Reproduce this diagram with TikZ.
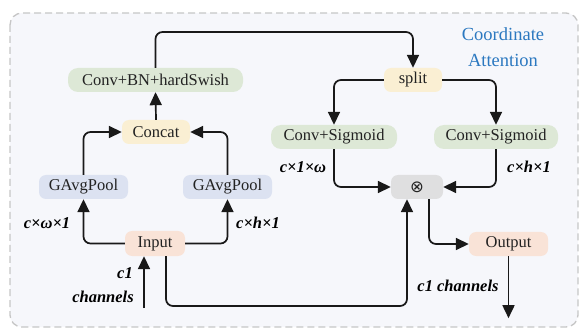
\documentclass[tikz,border=0pt]{standalone}
\usepackage{fontspec}
\setmainfont{Liberation Serif}
\newfontfamily\symfont{DejaVu Sans}
\usetikzlibrary{arrows.meta,calc}
\definecolor{bgfill}{HTML}{F6F7FB}
\definecolor{frame}{HTML}{C6C6C6}
\definecolor{greenbox}{HTML}{DDE8D6}
\definecolor{yellowbox}{HTML}{FAEFD3}
\definecolor{bluebox}{HTML}{DCE2F1}
\definecolor{peachbox}{HTML}{F9E3D7}
\definecolor{graybox}{HTML}{DFDFE0}
\definecolor{titleblue}{HTML}{2B78C0}
\definecolor{ink}{HTML}{222222}
\tikzset{
  blk/.style={inner sep=0pt, minimum height=24pt, text=ink, font=\fontsize{16.5}{18}\selectfont, rounded corners=7pt},
  greenblk/.style={blk, fill=greenbox, rounded corners=10pt},
  yellowblk/.style={blk, fill=yellowbox},
  blueblk/.style={blk, fill=bluebox},
  peachblk/.style={blk, fill=peachbox},
  grayblk/.style={blk, fill=graybox},
  link/.style={draw=black!90, line width=1.7pt, rounded corners=7pt,
    -{Triangle[length=13pt,width=12pt]}},
  dimlbl/.style={inner sep=0pt, text=black, font=\fontsize{16.5}{18}\selectfont\bfseries\itshape}
}
\begin{document}
\begin{tikzpicture}[x=1pt,y=-1pt]
\useasboundingbox (0,0) rectangle (581,331);
% dashed frame of the attention block
\draw[frame, fill=bgfill, line width=1.3pt, dash pattern=on 7pt off 4pt, rounded corners=12pt]
  (10,13) rectangle (578,327);
\node[align=center, text=titleblue, font=\fontsize{18.5}{26}\selectfont] (title) at (503,47)
  {Coordinate\\Attention};

% blocks
\node[greenblk, minimum width=175pt] (cbn) at (155.5,80) {Conv+BN+hardSwish};
\node[yellowblk, minimum width=68pt] (cc) at (156,132) {Concat};
\node[blueblk, minimum width=89pt] (gl) at (83.5,187) {GAvgPool};
\node[blueblk, minimum width=89pt] (gr) at (227.5,187) {GAvgPool};
\node[peachblk, minimum width=60pt, minimum height=25pt] (inp) at (155,243.5) {Input};
\node[yellowblk, minimum width=58pt] (sp) at (413,80) {split};
\node[greenblk, minimum width=126pt] (csl) at (334,137) {Conv+Sigmoid};
\node[greenblk, minimum width=124pt] (csr) at (496,137) {Conv+Sigmoid};
\node[grayblk, minimum width=52pt] (mul) at (417,187) {\symfont ⊗};
\node[peachblk, minimum width=79pt] (out) at (508.5,244) {Output};

% helper points
\coordinate (src) at (144,308);
\coordinate (inb) at ($(inp.south)+(11,0)$);
\coordinate (mulin) at ($(mul.south)+(-10,0)$);
\coordinate (mulout) at ($(mul.south)+(12,0)$);
\coordinate (sink) at ($(out.south)+(0,62)$);

% connectors
\draw[link] (src) -- (src |- inp.south);
\draw[link] (inp.west) -| (gl.south);
\draw[link] (inp.east) -| (gr.south);
\draw[link] (gl.north) |- (cc.west);
\draw[link] (gr.north) |- (cc.east);
\draw[link] (cc.north) -- (cbn.south);
\draw[link] (cbn.north) -- (cbn.north |- 0,32) -| (sp.north);
\draw[link] (sp.west) -| (csl.north);
\draw[link] (sp.east) -| (csr.north);
\draw[link] (csl.south) |- (mul.west);
\draw[link] (csr.south) |- (mul.east);
\draw[link] (inb) -- (inb |- 0,306) -| (mulin);
\draw[link] (mulout) |- (out.west);
\draw[link] (out.south) -- (sink);

% tensor shape labels
\node[dimlbl] (l1) at (47,223) {c×ω×1};
\node[dimlbl] (l2) at (258,223) {c×h×1};
\node[dimlbl] (l3) at (303,167) {c×1×ω};
\node[dimlbl] (l4) at (529,167) {c×h×1};
\node[dimlbl] (l5) at (125,273) {c1};
\node[dimlbl] (l6) at (103,297) {channels};
\node[dimlbl] (l7) at (458,286) {c1 channels};
\end{tikzpicture}
\end{document}
